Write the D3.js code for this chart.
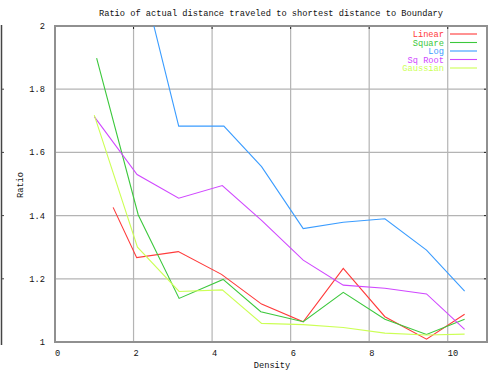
<!DOCTYPE html>
<html>
<head>
<meta charset="utf-8">
<script src="https://cdn.jsdelivr.net/npm/d3@7"></script>
<style>
  body { margin: 0; background: #fff; }
  text { font-family: "Liberation Mono", "DejaVu Sans Mono", monospace; font-size: 8.7px; fill: #111; }
</style>
</head>
<body>
<div id="chart"></div>
<script>
const seriesNames = ['Linear', 'Square', 'Log', 'Sq Root', 'Gaussian'];
const seriesColors = ['#ff3a3a', '#3cc83c', '#3a9cff', '#d048ff', '#ccff55'];

const linearX = [1.48, 2.08, 3.14, 4.24, 5.26, 6.32, 7.34, 8.4, 9.46, 10.43];
const linearY = [1.426, 1.267, 1.286, 1.214, 1.12, 1.064, 1.233, 1.08, 1.009, 1.088];

const squareX = [1.06, 2.12, 3.16, 4.28, 5.24, 6.32, 7.34, 8.4, 9.46, 10.43];
const squareY = [1.898, 1.402, 1.138, 1.198, 1.096, 1.064, 1.157, 1.072, 1.024, 1.072];

const logX = [2.1, 3.15, 4.3, 5.26, 6.32, 7.34, 8.4, 9.46, 10.43];
const logY = [2.21, 1.683, 1.683, 1.555, 1.359, 1.379, 1.39, 1.291, 1.161];

const sqrtX = [1.0, 2.09, 3.15, 4.26, 5.26, 6.32, 7.34, 8.4, 9.46, 10.43];
const sqrtY = [1.713, 1.53, 1.455, 1.495, 1.385, 1.259, 1.18, 1.17, 1.152, 1.04];

const gaussX = [1.0, 2.1, 3.16, 4.26, 5.26, 6.32, 7.34, 8.4, 9.46, 10.43];
const gaussY = [1.718, 1.30, 1.16, 1.165, 1.059, 1.055, 1.046, 1.028, 1.022, 1.025];

const xTicks = [0, 2, 4, 6, 8, 10];
const yTicks = [1, 1.2, 1.4, 1.6, 1.8, 2];

const allX = [linearX, squareX, logX, sqrtX, gaussX];
const allY = [linearY, squareY, logY, sqrtY, gaussY];

const W = 493, H = 372;
const margin = {top: 26, right: 6, bottom: 30, left: 55};
const width = W - margin.left - margin.right;
const height = H - margin.top - margin.bottom;

const svg = d3.select('#chart').append('svg')
    .attr('width', W)
    .attr('height', H);

const x = d3.scaleLinear().domain([0, 11]).range([margin.left, margin.left + width]);
const y = d3.scaleLinear().domain([1, 2]).range([margin.top + height, margin.top]);

// stray axis line at the far left of the original image
svg.append('line')
    .attr('x1', 1.5).attr('x2', 1.5)
    .attr('y1', y(2) - 1).attr('y2', y(1) + 3)
    .style('stroke', '#444').style('stroke-width', 1.5);
svg.selectAll('.stray-tick').data(yTicks.slice(1, 5)).enter().append('line')
    .attr('x1', 1).attr('x2', 4)
    .attr('y1', d => y(d)).attr('y2', d => y(d))
    .style('stroke', '#444');

// grid
svg.append('g').selectAll('line').data(xTicks.slice(1)).enter().append('line')
    .attr('x1', d => x(d)).attr('x2', d => x(d))
    .attr('y1', y(2)).attr('y2', y(1))
    .style('stroke', '#b4b4b4').style('stroke-width', 1.2);
svg.append('g').selectAll('line').data(yTicks.slice(1, 5)).enter().append('line')
    .attr('x1', x(0)).attr('x2', x(11))
    .attr('y1', d => y(d)).attr('y2', d => y(d))
    .style('stroke', '#b4b4b4').style('stroke-width', 1.2);

// small black ticks on top and right
svg.append('g').selectAll('line').data(xTicks.slice(1)).enter().append('line')
    .attr('x1', d => x(d)).attr('x2', d => x(d))
    .attr('y1', y(2)).attr('y2', y(2) + 3)
    .style('stroke', '#222');
svg.append('g').selectAll('line').data(yTicks.slice(1, 5)).enter().append('line')
    .attr('x1', x(11) - 3).attr('x2', x(11))
    .attr('y1', d => y(d)).attr('y2', d => y(d))
    .style('stroke', '#222');

// frame
svg.append('rect')
    .attr('x', x(0)).attr('y', y(2))
    .attr('width', x(11) - x(0)).attr('height', y(1) - y(2))
    .style('fill', 'none').style('stroke', '#909090').style('stroke-width', 2);

// tick labels
svg.append('g').selectAll('text').data(yTicks).enter().append('text')
    .attr('x', 45).attr('y', d => y(d) + 3)
    .attr('text-anchor', 'end')
    .text(d => d === 1 || d === 2 ? d : d.toFixed(1));
svg.append('g').selectAll('text').data(xTicks).enter().append('text')
    .attr('x', d => x(d)).attr('y', y(1) + 14)
    .text(d => d);

// titles
svg.append('text').attr('x', 271).attr('y', 16)
    .attr('text-anchor', 'middle')
    .text('Ratio of actual distance traveled to shortest distance to Boundary');
svg.append('text').attr('x', 272).attr('y', 368)
    .attr('text-anchor', 'middle')
    .text('Density');
svg.append('text')
    .attr('transform', 'translate(23,185) rotate(-90)')
    .attr('text-anchor', 'middle')
    .text('Ratio');

// series
svg.append('clipPath').attr('id', 'plot-clip')
    .append('rect')
    .attr('x', x(0)).attr('y', y(2))
    .attr('width', x(11) - x(0)).attr('height', y(1) - y(2));

const line = d3.line()
    .x(d => x(d[0]))
    .y(d => y(d[1]));

seriesNames.forEach((name, i) => {
    const pts = allX[i].map((v, j) => [v, allY[i][j]]);
    svg.append('path')
        .datum(pts)
        .attr('clip-path', 'url(#plot-clip)')
        .attr('d', line)
        .style('fill', 'none')
        .style('stroke', seriesColors[i])
        .style('stroke-width', 1.1);
});

// legend
const legend = svg.append('g').selectAll('g').data(seriesNames).enter().append('g')
    .attr('transform', (d, i) => 'translate(0,' + (34 + i * 8.5) + ')');
legend.append('text')
    .attr('x', 444).attr('y', 3)
    .attr('text-anchor', 'end')
    .style('fill', (d, i) => seriesColors[i])
    .text(d => d);
legend.append('line')
    .attr('x1', 450).attr('x2', 477)
    .attr('y1', 0).attr('y2', 0)
    .style('stroke', (d, i) => seriesColors[i])
    .style('stroke-width', 1.1);
</script>
</body>
</html>
